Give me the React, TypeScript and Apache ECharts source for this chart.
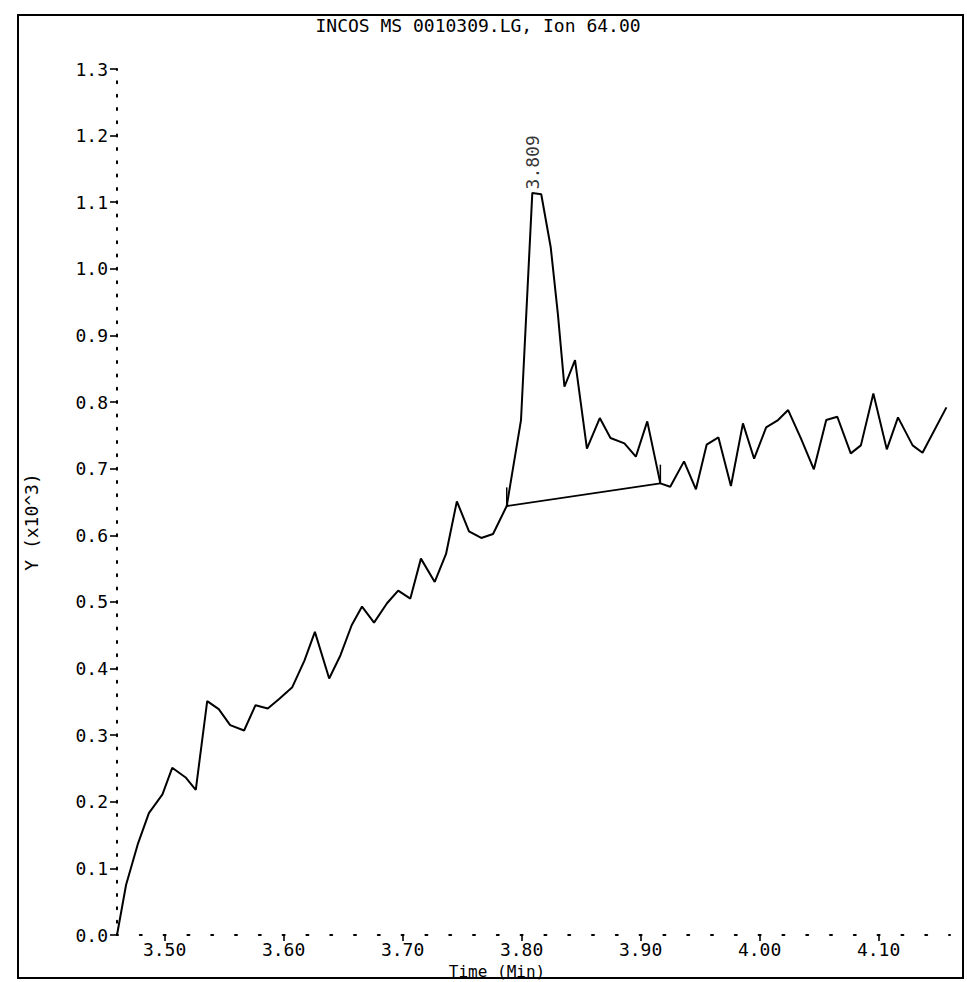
import React, { useEffect, useRef } from "react";
import * as echarts from "echarts";

const TITLE = "INCOS MS 0010309.LG, Ion 64.00";
const X_NAME = "Time (Min)";
const Y_NAME = "Y (x10^3)";

// Scan times (min)
const TIMES = [
  3.46, 3.4676, 3.4774, 3.4868, 3.4982, 3.5064, 3.518, 3.5262, 3.5358, 3.5455,
  3.5551, 3.5668, 3.5764, 3.5867, 3.596, 3.6073, 3.6175, 3.6263, 3.6383, 3.6478,
  3.6572, 3.6659, 3.676, 3.6869, 3.6963, 3.7065, 3.7154, 3.727, 3.7365, 3.7456,
  3.7558, 3.7661, 3.776, 3.7875, 3.7995, 3.809, 3.8165, 3.8245, 3.8305, 3.836,
  3.8449, 3.8549, 3.8657, 3.8747, 3.8864, 3.896, 3.9056, 3.9166, 3.9249, 3.9365,
  3.9465, 3.9555, 3.9654, 3.9759, 3.986, 3.9954, 4.0055, 4.0155, 4.024, 4.0348,
  4.0456, 4.056, 4.0653, 4.0766, 4.0851, 4.0956, 4.1069, 4.1163, 4.1286, 4.1369,
  4.157,
];

// Ion 64 abundance (x10^3)
const ABUNDANCE = [
  0.0, 0.075, 0.136, 0.183, 0.211, 0.251, 0.236, 0.218, 0.351, 0.339,
  0.315, 0.307, 0.345, 0.34, 0.354, 0.372, 0.412, 0.455, 0.385, 0.42,
  0.465, 0.493, 0.469, 0.498, 0.517, 0.505, 0.565, 0.53, 0.572, 0.651,
  0.606, 0.596, 0.602, 0.644, 0.773, 1.114, 1.112, 1.032, 0.932, 0.823,
  0.863, 0.73, 0.776, 0.746, 0.738, 0.718, 0.771, 0.678, 0.673, 0.711,
  0.669, 0.736, 0.747, 0.674, 0.768, 0.715, 0.762, 0.773, 0.788, 0.745,
  0.699, 0.773, 0.778, 0.723, 0.735, 0.813, 0.729, 0.777, 0.735, 0.724,
  0.792,
];

const X_TICKS = [3.5, 3.6, 3.7, 3.8, 3.9, 4.0, 4.1];
const Y_TICKS = [0.0, 0.1, 0.2, 0.3, 0.4, 0.5, 0.6, 0.7, 0.8, 0.9, 1.0, 1.1, 1.2, 1.3];

// Integrated peak: start, apex and end scans
const PEAK_START = 33;
const PEAK_APEX = 35;
const PEAK_END = 47;

const X_MIN = 3.46;
const X_MAX = 4.16;
const Y_MIN = 0;
const Y_MAX = 1.3;
const DOT_STEP = 0.02;
const MARKER_HEIGHT = 0.028;

const FONT = '"DejaVu Sans Mono", "Liberation Mono", monospace';
const INK = "#000";

const GRID = { left: 117, top: 69, width: 833, height: 866 };

export default function App() {
  const ref = useRef<HTMLDivElement>(null);

  useEffect(() => {
    if (!ref.current) return;
    const chart = echarts.init(ref.current, undefined, { renderer: "svg" });

    const xDotGap = GRID.width / ((X_MAX - X_MIN) / DOT_STEP);
    const yDotGap = GRID.height / ((Y_MAX - Y_MIN) / DOT_STEP);

    const trace = TIMES.map((t, i) => [t, ABUNDANCE[i]]);
    const baseline = [
      [TIMES[PEAK_START], ABUNDANCE[PEAK_START]],
      [TIMES[PEAK_END], ABUNDANCE[PEAK_END]],
    ];
    const startMarker = [
      [TIMES[PEAK_START], ABUNDANCE[PEAK_START]],
      [TIMES[PEAK_START], ABUNDANCE[PEAK_START] + MARKER_HEIGHT],
    ];
    const endMarker = [
      [TIMES[PEAK_END], ABUNDANCE[PEAK_END]],
      [TIMES[PEAK_END], ABUNDANCE[PEAK_END] + MARKER_HEIGHT],
    ];

    const option: any = {
      animation: false,
      backgroundColor: "#fff",
      grid: { ...GRID, containLabel: false },
      xAxis: {
        type: "value",
        min: X_MIN,
        max: X_MAX,
        interval: DOT_STEP,
        axisLine: {
          show: true,
          onZero: false,
          lineStyle: { color: INK, width: 2, type: [2, xDotGap - 2], dashOffset: 1 },
        },
        axisTick: {
          show: true,
          customValues: X_TICKS,
          length: 6,
          lineStyle: { color: INK, width: 1.6 },
        },
        axisLabel: {
          show: true,
          customValues: X_TICKS,
          margin: 5,
          formatter: (v: number) => v.toFixed(2),
          fontFamily: FONT,
          fontSize: 18,
          color: INK,
        },
        splitLine: { show: false },
      },
      yAxis: {
        type: "value",
        min: Y_MIN,
        max: Y_MAX,
        interval: 0.1,
        axisLine: {
          show: true,
          onZero: false,
          lineStyle: { color: INK, width: 2, type: [2, yDotGap - 2], dashOffset: 1 },
        },
        axisTick: {
          show: true,
          customValues: Y_TICKS,
          length: 7,
          lineStyle: { color: INK, width: 1.6 },
        },
        axisLabel: {
          show: true,
          customValues: Y_TICKS,
          margin: 9,
          formatter: (v: number) => v.toFixed(1),
          fontFamily: FONT,
          fontSize: 18,
          color: INK,
        },
        splitLine: { show: false },
      },
      series: [
        {
          type: "line",
          data: trace,
          showSymbol: false,
          silent: true,
          lineStyle: { color: INK, width: 2 },
          z: 3,
        },
        {
          type: "line",
          data: baseline,
          showSymbol: false,
          silent: true,
          lineStyle: { color: INK, width: 1.8 },
          z: 3,
        },
        {
          type: "line",
          data: startMarker,
          showSymbol: false,
          silent: true,
          lineStyle: { color: INK, width: 1.5 },
          z: 3,
        },
        {
          type: "line",
          data: endMarker,
          showSymbol: false,
          silent: true,
          lineStyle: { color: INK, width: 1.5 },
          z: 3,
        },
        {
          type: "scatter",
          data: [[TIMES[PEAK_APEX], ABUNDANCE[PEAK_APEX]]],
          symbolSize: 1,
          silent: true,
          itemStyle: { color: "rgba(0,0,0,0)" },
          label: {
            show: true,
            position: "top",
            distance: 3,
            rotate: 90,
            align: "left",
            verticalAlign: "middle",
            formatter: () => TIMES[PEAK_APEX].toFixed(3),
            fontFamily: FONT,
            fontSize: 18,
            color: INK,
          },
          z: 4,
        },
      ],
      graphic: [
        {
          type: "rect",
          shape: { x: 18, y: 15, width: 945, height: 963 },
          style: { fill: "none", stroke: INK, lineWidth: 2 },
          silent: true,
        },
        {
          type: "text",
          x: 478,
          y: 25,
          style: {
            text: TITLE,
            font: `18px ${FONT}`,
            fill: INK,
            align: "center",
            verticalAlign: "middle",
          },
          silent: true,
        },
        {
          type: "text",
          x: 497,
          y: 963,
          style: {
            text: X_NAME,
            font: `16px ${FONT}`,
            fill: INK,
            align: "center",
            verticalAlign: "top",
          },
          silent: true,
        },
        {
          type: "text",
          x: 31,
          y: 522,
          rotation: Math.PI / 2,
          style: {
            text: Y_NAME,
            font: `18px ${FONT}`,
            fill: INK,
            align: "center",
            verticalAlign: "middle",
          },
          silent: true,
        },
      ],
    };

    chart.setOption(option);
    return () => chart.dispose();
  }, []);

  return (
    <div
      ref={ref}
      style={{
        position: "absolute",
        left: 0,
        top: 0,
        width: 967,
        height: 982,
        background: "#fff",
      }}
    />
  );
}
